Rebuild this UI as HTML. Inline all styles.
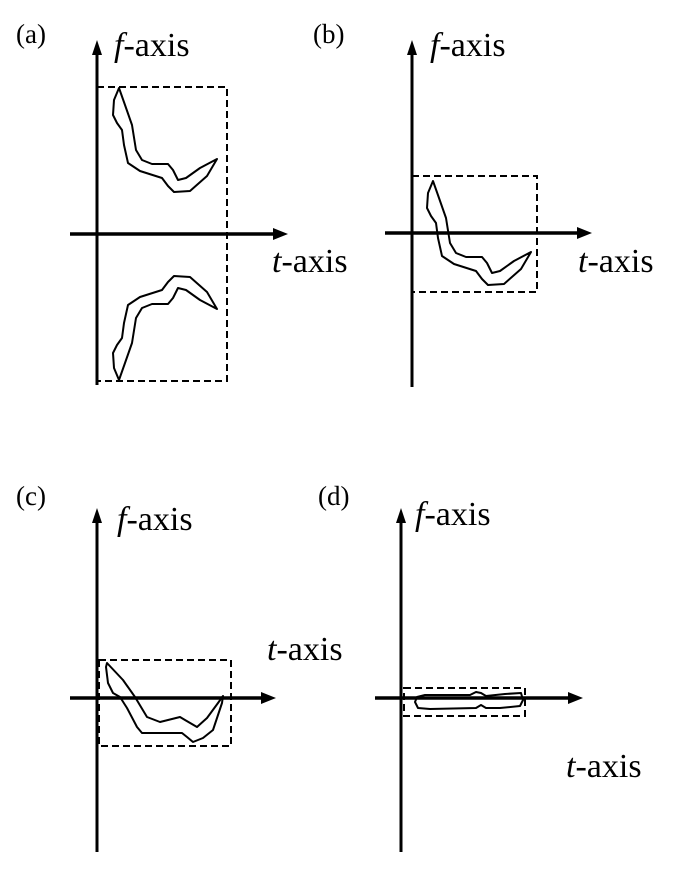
<!DOCTYPE html>
<html><head><meta charset="utf-8"><style>
html,body{margin:0;padding:0;background:#fff;}
svg{display:block;}
text{font-family:"Liberation Serif",serif;fill:#000;}
</style></head><body>
<svg id="fig" width="682" height="873" viewBox="0 0 682 873">
<g id="root"></g>
</svg>
<script>
// Shape outlines (in panel-a coords)
const shapeA = [[119,88],[125,105],[132,125],[136,150],[142,160],[152,164],[168,164],[173,170],[178,180],[186,178],[200,168],[217,159],[207,176],[190,191],[174,192],[168,186],[162,178],[140,171],[128,163],[124,145],[122,130],[117,123],[113,115],[114,100],[119,88]];
const shapeC = [[107,663],[123,680],[135,697],[147,717],[160,722],[180,717],[185,720],[197,727],[207,718],[218,703],[223,696],[222,703],[213,730],[203,738],[193,742],[187,737],[182,733],[160,733],[142,733],[137,727],[127,708],[120,697],[113,693],[108,683],[106,667],[107,663]];
const shapeD = [[417,697],[425,695],[470,695],[476,692],[481,693],[486,696],[505,694],[521,693],[523,700],[520,706],[500,708],[486,708],[481,705],[476,708],[430,709],[418,708],[415,702],[417,697]];
const panels = ['a','b','c','d'];
const axisX = [97, 412, 97, 401];
const axisY = [234, 233, 698, 698];
const vTop = [40, 40, 508, 508];
const vBot = [385, 387, 852, 852];
const hLeft = [70, 385, 70, 375];
const hRight = [288, 592, 276, 583];
const boxL = [97, 412, 99, 404];
const boxR = [227, 537, 231, 525];
const boxT = [87, 176, 660, 688];
const boxB = [381, 292, 746, 716];
const panelLabelXY = [[16,43],[313,43],[16,505],[318,505]];
const fLabelXY = [[114,56],[430,56],[117,530],[415,525]];
const tLabelXY = [[272,272],[578,272],[267,660],[566,777]];

const NS='http://www.w3.org/2000/svg';
const root=document.getElementById('root');
function mk(tag,attrs,parent){const e=document.createElementNS(NS,tag);for(const k in attrs)e.setAttribute(k,attrs[k]);(parent||root).appendChild(e);return e;}
function pts(arr,dx,dy,mirror){return arr.map(p=>[(p[0]+dx),(mirror!==undefined?mirror-p[1]:p[1]+dy)].join(',')).join(' ');}

panels.forEach((p,i)=>{
  const g=mk('g',{});
  
  
  const x=axisX[i], y=axisY[i];
  const box=mk('rect',{x:boxL[i],y:boxT[i],width:boxR[i]-boxL[i],height:boxB[i]-boxT[i],fill:'none',stroke:'#000','stroke-width':2,'stroke-dasharray':'7,4'},g);
  
  
  const va=mk('line',{x1:x,y1:vTop[i]+12,x2:x,y2:vBot[i],stroke:'#000','stroke-width':3},g);
  
  
  mk('polygon',{points:`${x},${vTop[i]} ${x-5},${vTop[i]+15} ${x+5},${vTop[i]+15}`,fill:'#000'},g);
  const ha=mk('line',{x1:hLeft[i],y1:y,x2:hRight[i]-12,y2:y,stroke:'#000','stroke-width':3.5},g);
  
  
  mk('polygon',{points:`${hRight[i]},${y} ${hRight[i]-15},${y-6} ${hRight[i]-15},${y+6}`,fill:'#000'},g);
  const pl=mk('text',{x:panelLabelXY[i][0],y:panelLabelXY[i][1],'font-size':27},g);
  pl.textContent='('+p+')';
  
  
  const fl=mk('text',{x:fLabelXY[i][0],y:fLabelXY[i][1],'font-size':34},g);
  fl.innerHTML='<tspan font-style="italic">f</tspan>-axis';
  
  
  const tl=mk('text',{x:tLabelXY[i][0],y:tLabelXY[i][1],'font-size':34},g);
  tl.innerHTML='<tspan font-style="italic">t</tspan>-axis';
  
  
  const sty={fill:'none',stroke:'#000','stroke-width':2,'stroke-linejoin':'round'};
  if(p==='a'){
    const s1=mk('polygon',Object.assign({points:pts(shapeA,0,0)},sty),g);
    
    
    const s2=mk('polygon',Object.assign({points:pts(shapeA,0,0,468)},sty),g);
    
    
  } else if(p==='b'){
    const s=mk('polygon',Object.assign({points:pts(shapeA,314,93)},sty),g);
    
    
  } else if(p==='c'){
    const s=mk('polygon',Object.assign({points:pts(shapeC,0,0)},sty),g);
    
    
  } else {
    const s=mk('polygon',Object.assign({points:pts(shapeD,0,0)},sty),g);
    
    
  }
});
</script>
</body></html>
